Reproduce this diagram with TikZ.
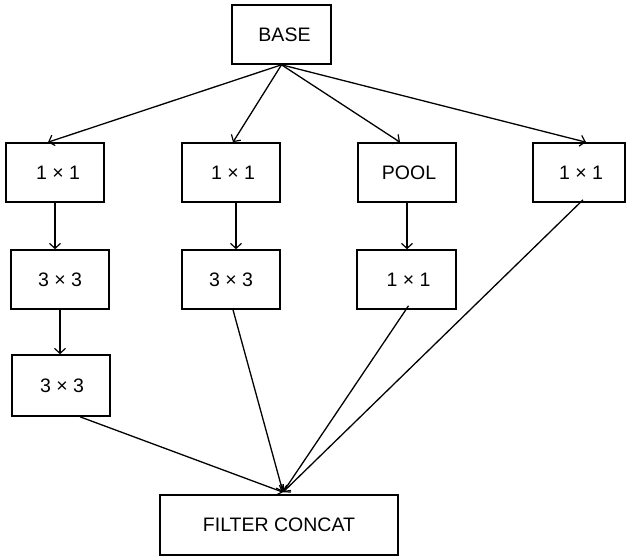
\documentclass[tikz,border=0pt]{standalone}
\usepackage{fontspec}
\setmainfont{Liberation Sans}
\usetikzlibrary{arrows.meta}
\begin{document}
\begin{tikzpicture}[x=1pt,y=-1pt,
  box/.style={draw, line width=1.6pt, inner sep=0pt, font=\fontsize{19.5}{22}\selectfont, minimum width=98pt, minimum height=59pt},
  conn/.style={line width=1.3pt, -{Straight Barb[length=5pt,width=11pt,line width=1.2pt]}}]
\useasboundingbox (0,0) rectangle (626,556);
\node[box, minimum width=99pt] (base) at (281.5,34.5) {\hspace{6pt}BASE};
\node[box] (a1) at (55,172.5) {\hspace{6pt}1 × 1};
\node[box] (b1) at (231,172.5) {\hspace{4pt}1 × 1};
\node[box] (c1) at (407,172.5) {\hspace{4pt}POOL};
\node[box, minimum width=92pt] (d1) at (579,172.5) {\hspace{4pt}1 × 1};
\node[box] (a2) at (60,279.5) {3 × 3};
\node[box] (b2) at (231,279.5) {3 × 3};
\node[box, minimum width=99pt] (c2) at (406.5,279.5) {\hspace{4pt}1 × 1};
\node[box, minimum height=61pt] (a3) at (61,385.5) {\hspace{2pt}3 × 3};
\node[box, minimum width=238pt, minimum height=60pt] (cc) at (279,525) {FILTER CONCAT};
\coordinate (bs) at (base.south);
\draw[conn] (bs) -- ([xshift=-7pt]a1.north);
\draw[conn] (bs) -- ([xshift=2pt]b1.north);
\draw[conn] (bs) -- ([xshift=-7pt]c1.north);
\draw[conn] (bs) -- ([xshift=7pt]d1.north);
\draw[conn] (a1.south) -- (a1.south |- a2.north);
\draw[conn] ([xshift=5pt]b1.south) -- ([xshift=5pt]b1.south |- b2.north);
\draw[conn] (c1.south) -- (c1.south |- c2.north);
\draw[conn] (a2.south) -- (a2.south |- a3.north);
\coordinate (ct) at ([xshift=4pt,yshift=2pt]cc.north);
\draw[conn] ([xshift=19pt]a3.south) -- (ct);
\draw[conn] ([xshift=2pt]b2.south) -- (ct);
\draw[conn] ([xshift=2pt,yshift=4pt]c2.south) -- (ct);
\draw[conn] ([xshift=4pt,yshift=3pt]d1.south) -- (ct);
\end{tikzpicture}
\end{document}
